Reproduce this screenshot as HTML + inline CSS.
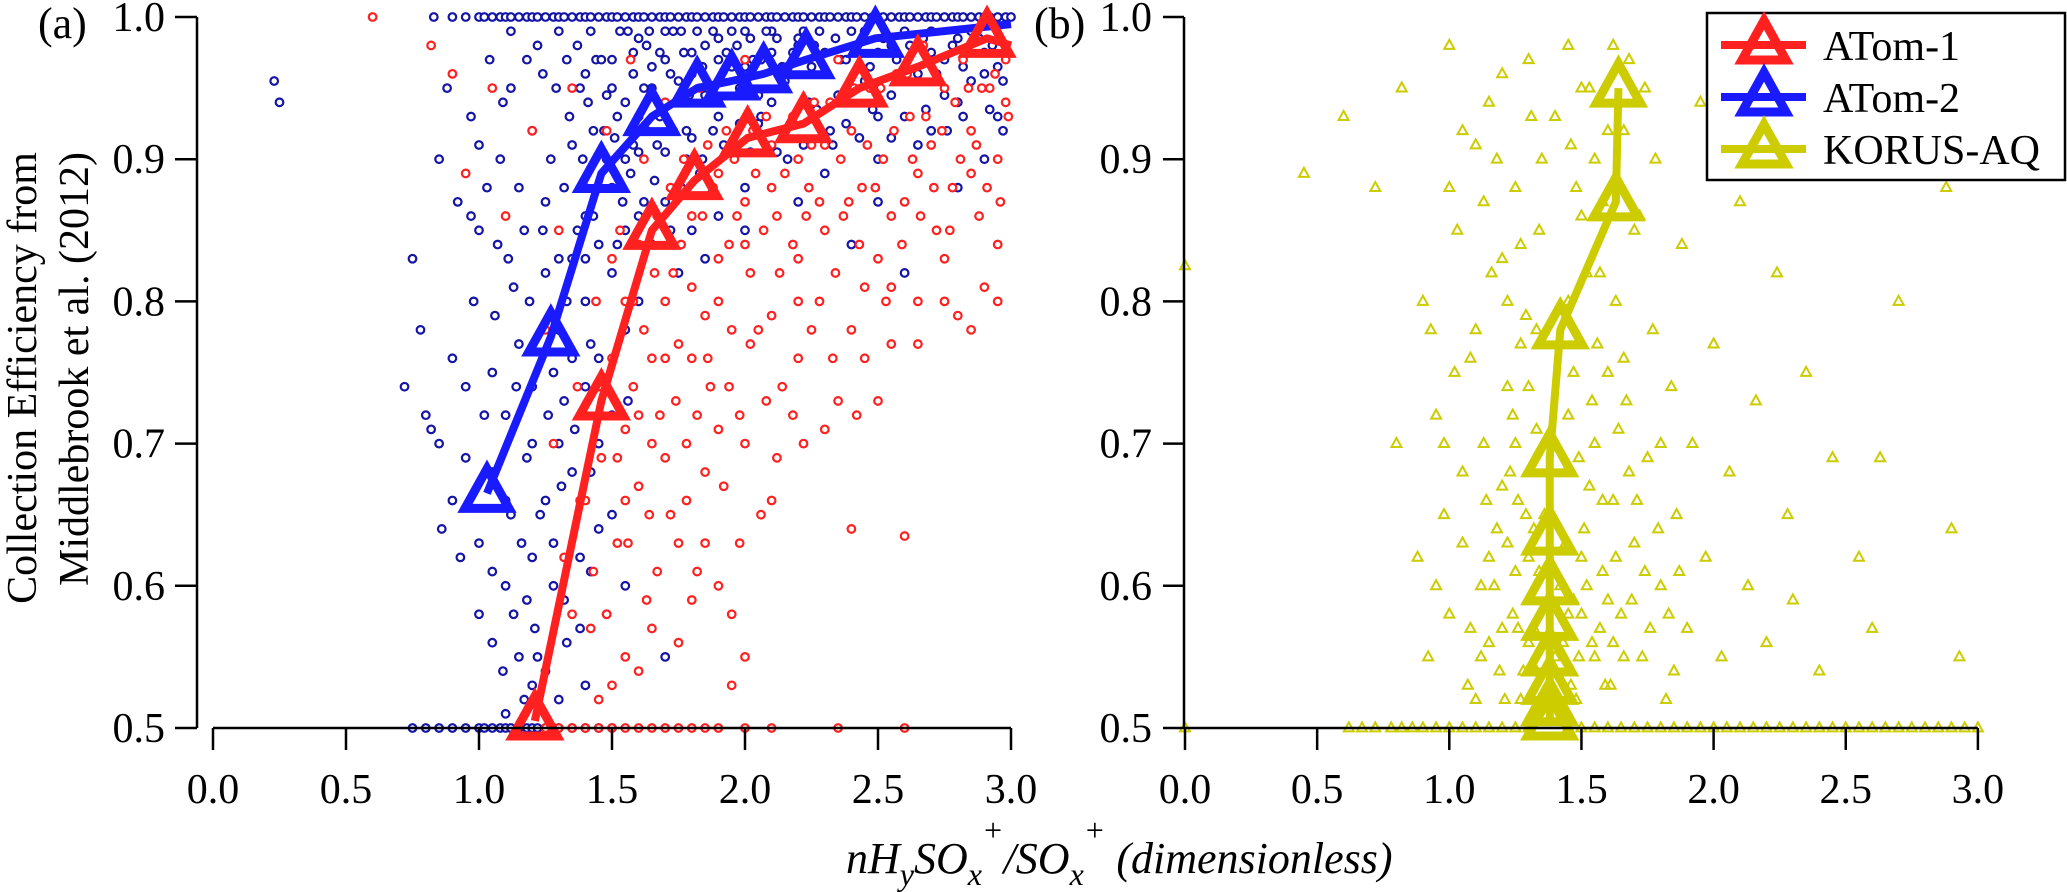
<!DOCTYPE html>
<html><head><meta charset="utf-8"><style>
html,body{margin:0;padding:0;background:#fff;}
svg{display:block;}
svg text{font-family:"Liberation Serif","Times New Roman",serif;}
</style></head><body>
<svg id="chart" width="2067" height="892" viewBox="0 0 2067 892" xmlns="http://www.w3.org/2000/svg" font-family="Liberation Serif, serif">
<g id="scatter"></g>
<g id="lines"></g>
<g id="axes"></g>
<text x="38" y="38" font-size="44" font-family="Liberation Serif, serif">(a)</text>
<text x="1034" y="38" font-size="44" font-family="Liberation Serif, serif">(b)</text>
<text transform="translate(36,378) rotate(-90)" text-anchor="middle" font-size="42" font-family="Liberation Serif, serif">Collection Efficiency from</text>
<text transform="translate(88,369) rotate(-90)" text-anchor="middle" font-size="42" font-family="Liberation Serif, serif">Middlebrook et al. (2012)</text>
<text x="846" y="873" font-size="44" font-style="italic" font-family="Liberation Serif, serif">nH<tspan dy="12" font-size="32">y</tspan><tspan dy="-12">SO</tspan><tspan dy="12" font-size="32">x</tspan><tspan dy="-44" font-size="32">+</tspan><tspan dy="32">/SO</tspan><tspan dy="12" font-size="32">x</tspan><tspan dy="-44" font-size="32">+</tspan><tspan dy="32"> (dimensionless)</tspan></text>
<g>
<rect x="1707" y="13" width="358" height="167" fill="#fff" stroke="#000" stroke-width="2.5"/>
<g id="legendItems"></g>
</g>
</svg>
<script>
const atom1Mean = [[1.21,0.505],[1.46,0.73],[1.65,0.85],[1.81,0.885],[2.01,0.915],[2.22,0.925],[2.43,0.95],[2.65,0.965],[2.91,0.985],[3.0,0.98]];
const atom2Mean = [[1.03,0.665],[1.27,0.775],[1.46,0.89],[1.65,0.93],[1.82,0.95],[1.95,0.955],[2.07,0.96],[2.23,0.97],[2.49,0.985],[3.0,0.995]];
const korusMean = [[1.38,0.505],[1.38,0.515],[1.38,0.53],[1.38,0.55],[1.38,0.575],[1.38,0.60],[1.38,0.635],[1.38,0.69],[1.42,0.78],[1.63,0.87],[1.64,0.95]];
const atom1Markers = 9;
const atom2Markers = 9;
const korusMarkers = 11;
const atom2Pts = [[0.23,0.955],[0.25,0.94],[0.72,0.74],[0.75,0.83],[0.78,0.78],[0.8,0.72],[0.82,0.71],[0.85,0.90],[0.86,0.64],[0.88,0.95],[0.9,0.76],[0.92,0.87],[0.93,0.62],[0.95,0.69],[0.97,0.93],[0.98,0.80],[1.0,0.58],[1.0,0.85],[1.02,0.72],[1.04,0.97],[1.05,0.61],[1.06,0.79],[1.08,0.90],[1.09,0.54],[1.1,0.66],[1.11,0.83],[1.12,0.95],[1.13,0.58],[1.14,0.74],[1.15,0.88],[1.16,0.63],[1.17,0.52],[1.18,0.69],[1.19,0.80],[1.2,0.92],[1.21,0.57],[1.22,0.98],[1.23,0.65],[1.24,0.85],[1.25,0.54],[1.26,0.72],[1.27,0.90],[1.28,0.60],[1.29,0.95],[1.3,0.78],[1.31,0.67],[1.32,0.88],[1.33,0.56],[1.34,0.93],[1.35,0.83],[1.36,0.71],[1.37,0.98],[1.38,0.62],[1.39,0.90],[1.4,0.80],[1.41,0.94],[1.42,0.68],[1.43,0.86],[1.44,0.97],[1.45,0.76],[1.47,0.92],[1.48,0.58],[1.5,0.95],[1.52,0.84],[1.53,0.99],[1.55,0.90],[1.56,0.73],[1.58,0.96],[1.6,0.93],[1.62,0.87],[1.63,0.98],[1.65,0.95],[1.67,0.91],[1.7,0.97],[1.72,0.85],[1.74,0.94],[1.76,0.99],[1.78,0.92],[1.8,0.96],[1.83,0.89],[1.85,0.98],[1.87,0.94],[1.9,0.97],[1.92,0.91],[1.95,0.99],[1.98,0.95],[2.0,0.88],[2.03,0.97],[2.06,0.93],[2.1,0.99],[2.13,0.96],[2.16,0.90],[2.2,0.98],[2.24,0.94],[2.28,0.99],[2.32,0.92],[2.36,0.97],[2.4,0.95],[2.45,0.99],[2.5,0.93],[2.55,0.98],[2.6,0.96],[2.65,0.91],[2.7,0.99],[2.75,0.97],[2.8,0.94],[2.85,0.99],[2.9,0.96],[2.95,0.93],[2.98,0.98],[1.6,0.80],[1.75,0.82],[2.4,0.84],[2.6,0.82],[1.9,0.86],[1.3,0.70],[1.45,0.64],[1.55,0.60],[1.7,0.55],[1.5,0.97],[1.6,0.985],[1.7,0.99],[1.8,0.975],[1.9,0.985],[2.0,0.99],[2.1,0.975],[2.2,0.985],[2.3,0.975],[2.4,0.99],[2.5,0.975],[2.6,0.99],[2.7,0.975],[2.8,0.985],[2.9,0.975],[1.55,0.94],[1.65,0.965],[1.75,0.955],[1.85,0.945],[1.95,0.965],[2.05,0.945],[2.15,0.955],[2.25,0.965],[2.35,0.945],[2.45,0.955],[2.55,0.945],[2.65,0.96],[2.75,0.945],[2.85,0.955],[2.95,0.965],[1.4,0.86],[1.5,0.88],[1.58,0.91],[1.68,0.93],[1.78,0.90],[1.88,0.92],[2.08,0.91],[2.3,0.89],[2.5,0.90],[2.7,0.92],[2.9,0.90],[1.15,0.77],[1.2,0.74],[1.25,0.82],[1.35,0.76],[1.1,0.60],[1.15,0.55],[1.2,0.62],[1.05,0.68],
[1.12,0.99],[1.18,0.97],[1.24,0.96],[1.3,0.99],[1.33,0.97],[1.38,0.95],[1.42,0.99],[1.46,0.97],[1.48,0.945],[1.52,0.93],[1.56,0.99],[1.58,0.975],[1.62,0.95],[1.64,0.99],[1.68,0.975],[1.72,0.96],[1.73,0.99],[1.77,0.975],[1.79,0.945],[1.82,0.99],[1.84,0.965],[1.88,0.99],[1.91,0.955],[1.93,0.975],[1.97,0.98],[2.0,0.965],[2.02,0.985],[2.06,0.97],[2.08,0.99],[2.12,0.985],[2.14,0.965],[2.18,0.975],[2.22,0.99],[2.26,0.98],[2.3,0.96],[2.34,0.985],[2.38,0.97],[2.42,0.98],[2.47,0.965],[2.52,0.985],[2.57,0.97],[2.62,0.98],[2.67,0.985],[2.72,0.96],[2.78,0.98],[2.82,0.965],[2.88,0.985],[2.93,0.98],[2.97,0.955],
[1.35,0.91],[1.4,0.96],[1.43,0.92],[1.48,0.90],[1.51,0.915],[1.54,0.87],[1.57,0.89],[1.6,0.905],[1.63,0.92],[1.66,0.885],[1.7,0.905],[1.73,0.92],[1.76,0.88],[1.8,0.915],[1.84,0.90],[1.87,0.875],[1.9,0.93],[1.94,0.905],[1.98,0.925],[2.02,0.905],[2.05,0.925],[2.1,0.94],[2.12,0.905],[2.18,0.925],[2.22,0.91],[2.27,0.935],[2.33,0.91],[2.38,0.925],[2.43,0.915],[2.48,0.935],[2.55,0.915],[2.6,0.93],[2.68,0.935],[2.76,0.92],[2.82,0.93],[2.92,0.935],[2.97,0.92],
[1.25,0.87],[1.3,0.83],[1.33,0.80],[1.37,0.85],[1.4,0.83],[1.45,0.84],[1.5,0.82],[1.55,0.85],[1.6,0.86],[1.65,0.84],[1.7,0.87],[1.8,0.85],[1.85,0.83],[2.0,0.85],[2.2,0.87],[2.5,0.87],[2.8,0.88],
[1.05,0.75],[1.1,0.72],[1.2,0.70],[1.25,0.66],[1.28,0.75],[1.32,0.73],[1.35,0.68],[1.4,0.74],[1.42,0.77],[1.5,0.72],[1.55,0.78],[1.45,0.70],[1.0,0.63],[1.05,0.56],[1.12,0.65],[1.18,0.59],[1.22,0.55],[1.28,0.63],[1.32,0.59],[1.38,0.57],[1.42,0.61],[1.5,0.65],[1.1,0.51],[1.2,0.53],[1.3,0.52],[1.4,0.53],[0.9,0.66],[0.95,0.74],[0.85,0.70],[0.97,0.86],[1.0,0.91],[1.03,0.88],[1.07,0.84],[1.09,0.94],[1.13,0.81],[1.17,0.85]];
const atom2Floor = [0.75,0.8,0.85,0.9,0.95,1.0,1.02,1.05,1.08,1.1,1.12,1.15,1.18,1.2,1.22,1.25,1.28,1.3,1.35,1.4,1.45,1.5];
const atom2Ceil = [0.83,0.9,0.95,1.0,1.02,1.05,1.08,1.1,1.12,1.15,1.18,1.2,1.22,1.25,1.28,1.3,1.32,1.35,1.38,1.4,1.42,1.45,1.48,1.5,1.52,1.55,1.58,1.6,1.62,1.65,1.68,1.7,1.72,1.75,1.78,1.8,1.82,1.85,1.88,1.9,1.92,1.95,1.98,2.0,2.02,2.05,2.08,2.1,2.12,2.15,2.18,2.2,2.22,2.25,2.28,2.3,2.32,2.35,2.38,2.4,2.42,2.45,2.48,2.5,2.52,2.55,2.58,2.6,2.62,2.65,2.68,2.7,2.72,2.75,2.78,2.8,2.82,2.85,2.88,2.9,2.92,2.95,2.98,3.0];
const atom1Pts = [[0.6,1.0],[0.82,0.98],[0.9,0.96],[0.95,0.89],[1.05,0.95],[1.1,0.86],[1.2,0.92],[1.25,0.78],[1.28,0.70],[1.3,0.85],[1.32,0.62],[1.35,0.95],[1.37,0.74],[1.38,0.66],[1.4,0.88],[1.42,0.57],[1.44,0.80],[1.46,0.69],[1.48,0.92],[1.5,0.76],[1.52,0.63],[1.53,0.85],[1.55,0.71],[1.57,0.97],[1.58,0.80],[1.6,0.67],[1.62,0.90],[1.63,0.59],[1.65,0.76],[1.67,0.86],[1.68,0.72],[1.7,0.94],[1.72,0.65],[1.73,0.82],[1.75,0.77],[1.77,0.90],[1.78,0.70],[1.8,0.86],[1.82,0.61],[1.83,0.95],[1.85,0.79],[1.87,0.74],[1.88,0.88],[1.9,0.83],[1.92,0.67],[1.93,0.92],[1.95,0.78],[1.97,0.86],[1.98,0.72],[2.0,0.97],[2.02,0.82],[2.04,0.89],[2.06,0.65],[2.08,0.93],[2.1,0.79],[2.12,0.86],[2.14,0.74],[2.16,0.96],[2.18,0.84],[2.2,0.90],[2.22,0.70],[2.24,0.88],[2.26,0.94],[2.28,0.80],[2.3,0.91],[2.33,0.76],[2.35,0.97],[2.37,0.86],[2.4,0.92],[2.42,0.72],[2.44,0.88],[2.47,0.95],[2.5,0.83],[2.52,0.90],[2.55,0.77],[2.57,0.96],[2.6,0.87],[2.62,0.93],[2.65,0.80],[2.67,0.98],[2.7,0.91],[2.72,0.85],[2.75,0.95],[2.78,0.88],[2.8,0.79],[2.82,0.97],[2.85,0.92],[2.88,0.86],[2.9,0.81],[2.92,0.95],[2.95,0.90],[2.98,0.97],[2.99,0.93],[1.9,0.60],[2.1,0.66],[2.0,0.55],[2.4,0.64],[2.5,0.73],[1.6,0.54],[1.75,0.56],[2.3,0.71],[2.6,0.635],[1.95,0.53],[1.45,0.52],[1.55,0.55],[1.6,0.84],[1.7,0.80],[1.8,0.76],[1.9,0.80],[2.0,0.84],[2.1,0.88],[2.2,0.83],[2.3,0.85],[2.45,0.81],[2.55,0.86],[2.65,0.89],[2.75,0.83],[2.85,0.89],[2.95,0.84],[1.45,0.74],[1.55,0.66],[1.65,0.70],[1.75,0.63],[1.85,0.68],[2.0,0.70],[2.2,0.76],[2.4,0.78],
[1.5,0.83],[1.55,0.80],[1.58,0.74],[1.62,0.78],[1.66,0.82],[1.7,0.76],[1.72,0.88],[1.76,0.84],[1.8,0.81],[1.84,0.86],[1.86,0.91],[1.9,0.89],[1.94,0.84],[1.96,0.90],[2.0,0.87],[2.03,0.92],[2.05,0.78],[2.07,0.85],[2.1,0.91],[2.13,0.82],[2.15,0.89],[2.18,0.93],[2.2,0.80],[2.23,0.86],[2.25,0.91],[2.28,0.87],[2.32,0.94],[2.34,0.82],[2.36,0.90],[2.39,0.87],[2.41,0.95],[2.43,0.84],[2.46,0.91],[2.49,0.88],[2.51,0.95],[2.53,0.80],[2.56,0.92],[2.59,0.84],[2.61,0.96],[2.63,0.90],[2.66,0.86],[2.68,0.93],[2.71,0.88],[2.74,0.92],[2.77,0.85],[2.79,0.94],[2.81,0.90],[2.84,0.95],[2.87,0.91],[2.89,0.95],[2.91,0.88],[2.94,0.96],[2.96,0.87],[2.98,0.94],
[1.4,0.66],[1.43,0.61],[1.48,0.58],[1.52,0.69],[1.56,0.63],[1.6,0.72],[1.64,0.65],[1.67,0.61],[1.7,0.69],[1.74,0.73],[1.78,0.66],[1.82,0.72],[1.86,0.76],[1.9,0.71],[1.94,0.74],[1.98,0.63],[2.02,0.77],[2.08,0.73],[2.12,0.69],[2.18,0.72],[2.25,0.78],[2.35,0.73],[2.45,0.76],[2.55,0.81],[2.65,0.77],[2.75,0.80],[2.85,0.78],[2.95,0.80],[1.35,0.58],[1.5,0.53],[1.65,0.57],[1.8,0.59],[1.85,0.63],[1.95,0.58]];
const atom1Floor = [1.25,1.3,1.35,1.4,1.45,1.5,1.55,1.6,1.65,1.7,1.75,1.8,1.85,1.9,2.0,2.1,2.35,2.6];
const korusPts = [[0.0,0.825],[0.45,0.89],[0.6,0.93],[0.72,0.88],[0.8,0.70],[0.82,0.95],[0.88,0.62],[0.9,0.80],[0.92,0.55],[0.95,0.72],[0.98,0.65],[1.0,0.98],[1.0,0.58],[1.03,0.85],[1.05,0.68],[1.07,0.53],[1.08,0.76],[1.1,0.91],[1.12,0.60],[1.13,0.70],[1.15,0.56],[1.16,0.82],[1.18,0.64],[1.2,0.96],[1.21,0.52],[1.22,0.74],[1.24,0.58],[1.25,0.88],[1.26,0.66],[1.28,0.54],[1.29,0.79],[1.3,0.62],[1.31,0.93],[1.32,0.57],[1.33,0.71],[1.34,0.85],[1.35,0.52],[1.36,0.65],[1.4,0.55],[1.42,0.60],[1.44,0.68],[1.45,0.98],[1.46,0.53],[1.47,0.75],[1.48,0.88],[1.5,0.58],[1.51,0.64],[1.52,0.82],[1.53,0.95],[1.54,0.56],[1.55,0.70],[1.56,0.77],[1.58,0.61],[1.6,0.92],[1.61,0.53],[1.62,0.66],[1.63,0.80],[1.65,0.58],[1.67,0.73],[1.68,0.97],[1.7,0.63],[1.72,0.86],[1.73,0.55],[1.75,0.69],[1.77,0.78],[1.78,0.90],[1.8,0.60],[1.82,0.52],[1.84,0.74],[1.86,0.65],[1.88,0.84],[1.9,0.57],[1.92,0.70],[1.95,0.94],[1.97,0.62],[2.0,0.77],[2.03,0.55],[2.06,0.68],[2.1,0.87],[2.13,0.60],[2.16,0.73],[2.2,0.56],[2.24,0.82],[2.28,0.65],[2.3,0.59],[2.35,0.75],[2.4,0.54],[2.45,0.69],[2.5,0.92],[2.55,0.62],[2.6,0.57],[2.63,0.69],[2.7,0.80],[2.85,0.94],[2.9,0.64],[2.93,0.55],[2.88,0.88],[1.1,0.52],[1.15,0.62],[1.2,0.57],[1.25,0.61],[1.3,0.56],[1.32,0.64],[1.45,0.58],[1.48,0.52],[1.5,0.62],[1.55,0.55],[1.58,0.66],[1.6,0.59],[1.62,0.56],[1.25,0.70],[1.3,0.74],[1.45,0.80],[1.5,0.86],[1.2,0.83],[1.1,0.78],[1.55,0.90],[1.4,0.93],[1.3,0.97],[1.6,0.75],[1.7,0.85],[1.8,0.70],[1.0,0.88],[0.95,0.60],[1.05,0.92],[1.15,0.94],
[1.05,0.63],[1.08,0.57],[1.12,0.55],[1.14,0.66],[1.17,0.60],[1.19,0.54],[1.22,0.63],[1.23,0.68],[1.26,0.57],[1.27,0.52],[1.29,0.65],[1.31,0.59],[1.33,0.54],[1.34,0.61],[1.43,0.56],[1.44,0.63],[1.47,0.59],[1.49,0.55],[1.52,0.60],[1.53,0.67],[1.57,0.57],[1.59,0.53],[1.63,0.62],[1.66,0.55],[1.69,0.59],[1.71,0.66],[1.74,0.61],[1.76,0.57],[1.79,0.64],[1.83,0.58],[1.85,0.54],[1.87,0.61],[1.2,0.67],[1.24,0.72],[1.27,0.77],[1.33,0.78],[1.45,0.72],[1.49,0.69],[1.54,0.73],[1.57,0.82],[1.64,0.71],[1.66,0.76],[1.68,0.68],[1.13,0.87],[1.18,0.90],[1.22,0.80],[1.27,0.84],[1.35,0.90],[1.46,0.91],[1.5,0.95],[1.58,0.87],[1.62,0.98],[1.66,0.92],[1.74,0.95],[1.02,0.75],[0.98,0.70],[0.93,0.78]];
const korusFloor = [0.0,0.62,0.67,0.72,0.78,0.82,0.86,0.9,0.95,1.0,1.05,1.1,1.15,1.2,1.25,1.3,1.45,1.5,1.55,1.6,1.65,1.7,1.75,1.8,1.85,1.9,1.95,2.0,2.05,2.1,2.15,2.2,2.25,2.3,2.35,2.4,2.45,2.5,2.55,2.6,2.65,2.7,2.75,2.8,2.85,2.9,2.95,3.0];
const xTickLabels = ["0.0","0.5","1.0","1.5","2.0","2.5","3.0"];
const yTickLabels = ["0.5","0.6","0.7","0.8","0.9","1.0"];

const NS = "http://www.w3.org/2000/svg";
const RED = "#ff2020", BLUE = "#1414a6", BLUEL = "#1a1aff", YEL = "#cccc00";
const FONT = "Liberation Serif, serif";
function yS(v){ return 728 - (v - 0.5) / 0.5 * 711; }
function xA(v){ return 213 + v * 266; }
function xB(v){ return 1185 + v * 264.3; }
function mk(tag, attrs, parent){ const e = document.createElementNS(NS, tag); for (const k in attrs) e.setAttribute(k, attrs[k]); parent.appendChild(e); return e; }
const sc = document.getElementById('scatter');
const ln = document.getElementById('lines');
const ax = document.getElementById('axes');

function circ(x, y, col, name){
  const c = mk('circle', {cx: x, cy: y, r: 3.8, fill: '#fff', stroke: col, 'stroke-width': 2.2}, sc);
  
  
}
function tri(x, y, s, col, sw, parent, name){
  const h = s * 0.9;
  const p = mk('polygon', {points: `${x},${y - h*0.62} ${x - s/2},${y + h*0.38} ${x + s/2},${y + h*0.38}`, fill: 'none', stroke: col, 'stroke-width': sw, 'stroke-linejoin': 'miter'}, parent);
  
  
}
atom2Ceil.forEach(x => circ(xA(x), yS(1.0), BLUE, 'atom2-point'));
atom2Floor.forEach(x => circ(xA(x), yS(0.5), BLUE, 'atom2-point'));
atom2Pts.forEach(p => circ(xA(p[0]), yS(p[1]), BLUE, 'atom2-point'));
atom1Floor.forEach(x => circ(xA(x), yS(0.5), RED, 'atom1-point'));
atom1Pts.forEach(p => circ(xA(p[0]), yS(p[1]), RED, 'atom1-point'));
korusFloor.forEach(x => tri(xB(x), yS(0.5), 10, YEL, 2, sc, 'korus-point'));
korusPts.forEach(p => tri(xB(p[0]), yS(p[1]), 10, YEL, 2, sc, 'korus-point'));

function meanLine(data, xf, col, n, name){
  const pl = mk('polyline', {points: data.map(p => xf(p[0]) + ',' + yS(p[1])).join(' '), fill: 'none', stroke: col, 'stroke-width': 8, 'stroke-linejoin': 'round'}, ln);
  
  
  data.slice(0, n).forEach(p => tri(xf(p[0]), yS(p[1]), 44, col, 9, ln, name + '-marker'));
}
meanLine(atom2Mean, xA, BLUEL, atom2Markers, 'atom2-mean');
meanLine(atom1Mean, xA, RED, atom1Markers, 'atom1-mean');
meanLine(korusMean, xB, YEL, korusMarkers, 'korus-mean');

function line(x1, y1, x2, y2, name){
  const l = mk('line', {x1, y1, x2, y2, stroke: '#000', 'stroke-width': 2.5}, ax);
  
  
}
function txt(x, y, s, anchor, name){
  const t = mk('text', {x, y, 'font-size': 42, 'text-anchor': anchor, 'font-family': FONT}, ax);
  t.textContent = s;
  
  
}
line(197, yS(1.0), 197, yS(0.5), 'panel-a-y-axis');
line(xA(0), 728, xA(3), 728, 'panel-a-x-axis');
line(1184, yS(1.0), 1184, yS(0.5), 'panel-b-y-axis');
line(xB(0), 728, xB(3), 728, 'panel-b-x-axis');
yTickLabels.forEach(s => {
  const v = parseFloat(s);
  line(175, yS(v), 197, yS(v), 'panel-a-y-tick');
  txt(165, yS(v) + 14, s, 'end', 'panel-a-y-tick-label');
  line(1163, yS(v), 1184, yS(v), 'panel-b-y-tick');
  txt(1152, yS(v) + 14, s, 'end', 'panel-b-y-tick-label');
});
xTickLabels.forEach(s => {
  const v = parseFloat(s);
  line(xA(v), 728, xA(v), 750, 'panel-a-x-tick');
  txt(xA(v), 803, s, 'middle', 'panel-a-x-tick-label');
  line(xB(v), 728, xB(v), 750, 'panel-b-x-tick');
  txt(xB(v), 803, s, 'middle', 'panel-b-x-tick-label');
});

const lg = document.getElementById('legendItems');
const legendNames = ["ATom-1", "ATom-2", "KORUS-AQ"];
const legendCols = [RED, BLUEL, YEL];
legendNames.forEach((nm, i) => {
  const y = 45 + i * 52;
  const l = mk('line', {x1: 1721, y1: y, x2: 1806, y2: y, stroke: legendCols[i], 'stroke-width': 8}, lg);
  
  
  tri(1764, y, 44, legendCols[i], 9, lg, 'legend-marker-' + nm.toLowerCase());
  const t = mk('text', {x: 1823, y: y + 15, 'font-size': 42, 'font-family': FONT}, lg);
  t.textContent = nm;
  
  
});
</script>
</body></html>
